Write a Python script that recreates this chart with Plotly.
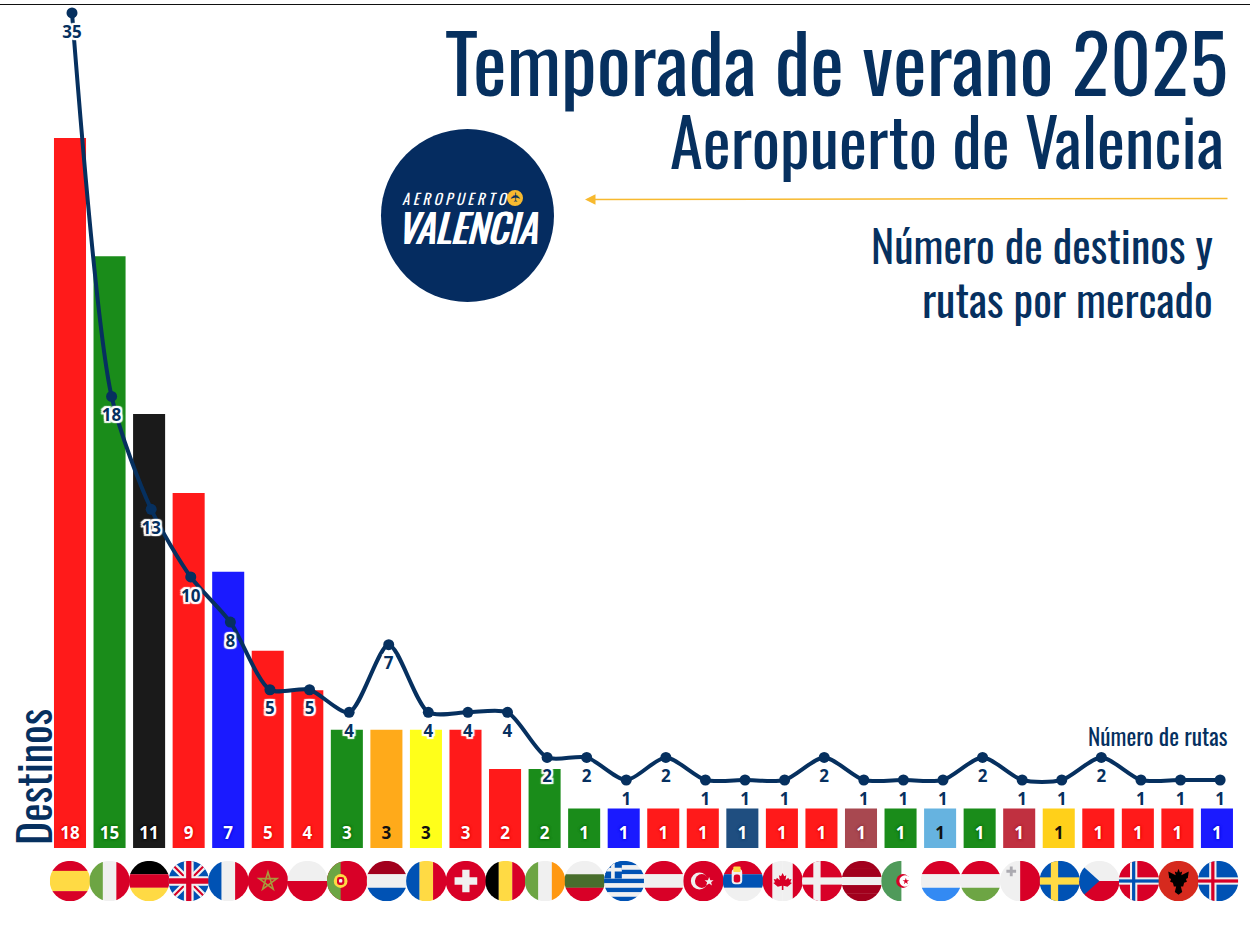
import base64
import plotly.graph_objects as go

# destinos por mercado
paises = ['ES', 'IT', 'DE', 'GB', 'FR', 'MA', 'PL', 'PT', 'NL', 'RO', 'CH', 'BE', 'IE', 'BG', 'GR',
          'AT', 'TR', 'RS', 'CA', 'DK', 'LV', 'DZ', 'LU', 'HU', 'MT', 'SE', 'CZ', 'NO', 'AL', 'IS']
destinos = [18, 15, 11, 9, 7, 5, 4, 3, 3, 3, 3, 2, 2, 1, 1, 1, 1, 1, 1, 1, 1, 1, 1, 1, 1, 1, 1, 1, 1, 1]
rutas = [35, 18, 13, 10, 8, 5, 5, 4, 7, 4, 4, 4, 2, 2, 1, 2, 1, 1, 1, 2, 1, 1, 1, 2, 1, 1, 2, 1, 1, 1]

ROJO, VERDE, NEGRO, AZUL = '#ff1a1a', '#1a8c1a', '#1a1a1a', '#1a1aff'
colores = [ROJO, VERDE, NEGRO, ROJO, AZUL, ROJO, ROJO, VERDE, '#ffaa1a', '#ffff1a', ROJO, ROJO, VERDE, VERDE, AZUL,
           ROJO, ROJO, '#1f4e80', ROJO, ROJO, '#a84850', VERDE, '#66b3e0', VERDE, '#c03040', '#ffd01a', ROJO, ROJO, ROJO, AZUL]
oscuros = {ROJO: '#e00000', VERDE: '#006a00', NEGRO: '#000000', AZUL: '#0000d8', '#1f4e80': '#0f3a68',
           '#a84850': '#8c3038', '#c03040': '#a81828'}

NAVY = '#06305f'
ORO = '#f7b92f'
FUENTE = 'Liberation Sans Narrow, Oswald, Arial Narrow, sans-serif'
W, H = 1250, 935

# colores de las banderas
R, B, A, Y, G, K = '#d80027', '#f0f0f0', '#0052b4', '#ffda44', '#6da544', '#000000'


def h_bands(*cols):
    n = len(cols)
    return ''.join(f'<rect y="{i * 100 / n}" width="100" height="{100 / n + .3}" fill="{c}"/>' for i, c in enumerate(cols))


def v_bands(*cols):
    n = len(cols)
    return ''.join(f'<rect x="{i * 100 / n}" width="{100 / n + .3}" height="100" fill="{c}"/>' for i, c in enumerate(cols))


def nordic(fondo, borde, cruz=None):
    s = f'<rect width="100" height="100" fill="{fondo}"/>'
    s += f'<rect x="28" width="18" height="100" fill="{borde}"/><rect y="41" width="100" height="18" fill="{borde}"/>'
    if cruz:
        s += f'<rect x="33" width="8" height="100" fill="{cruz}"/><rect y="46" width="100" height="8" fill="{cruz}"/>'
    return s


ESTRELLA = '50,28 63,70 28,44 72,44 37,70'
HOJA = '50,30 54,38 59,36 57,48 64,42 66,46 72,45 69,53 73,55 62,64 52,62 52,72 48,72 48,62 38,64 27,55 31,53 28,45 34,46 36,42 43,48 41,36 46,38'
AGUILA = '50,24 53,32 58,30 56,38 72,30 70,44 66,46 68,52 62,54 60,62 55,62 58,74 50,80 42,74 45,62 40,62 38,54 32,52 34,46 30,44 28,30 44,38 42,30 47,32'

banderas = {
    'ES': h_bands(R, Y, Y, R),
    'IT': v_bands(G, B, R),
    'DE': h_bands(K, R, Y),
    'GB': f'<rect width="100" height="100" fill="{A}"/>'
          f'<path d="M0 0L100 100M100 0L0 100" stroke="{B}" stroke-width="16"/>'
          f'<path d="M0 0L100 100M100 0L0 100" stroke="{R}" stroke-width="5"/>'
          f'<path d="M50 0V100M0 50H100" stroke="{B}" stroke-width="24"/>'
          f'<path d="M50 0V100M0 50H100" stroke="{R}" stroke-width="13"/>',
    'FR': v_bands(A, B, R),
    'MA': f'<rect width="100" height="100" fill="{R}"/>'
          f'<polygon points="{ESTRELLA}" fill="none" stroke="#a89a3c" stroke-width="4"/>',
    'PL': h_bands(B, R),
    'PT': f'<rect width="100" height="100" fill="{R}"/><rect width="34" height="100" fill="{G}"/>'
          f'<circle cx="34" cy="50" r="17" fill="{Y}"/><rect x="25" y="40" width="18" height="20" rx="6" fill="{R}"/>'
          f'<rect x="30" y="45" width="8" height="9" rx="3" fill="{B}"/>',
    'NL': h_bands('#a2001d', B, A),
    'RO': v_bands(A, Y, R),
    'CH': f'<rect width="100" height="100" fill="{R}"/>'
          f'<path d="M50 22V78M22 50H78" stroke="{B}" stroke-width="18"/>',
    'BE': v_bands(K, Y, R),
    'IE': v_bands(G, B, '#ff9811'),
    'BG': h_bands(B, '#496e2d', R),
    'GR': h_bands(A, B, A, B, A, B, A, B, A) + f'<rect width="44" height="44" fill="{A}"/>'
          f'<path d="M22 0V44M0 22H44" stroke="{B}" stroke-width="9"/>',
    'AT': h_bands(R, B, R),
    'TR': f'<rect width="100" height="100" fill="{R}"/><circle cx="40" cy="50" r="21" fill="{B}"/>'
          f'<circle cx="46" cy="50" r="17" fill="{R}"/><polygon points="64,40 67,48 75,48 69,53 71,61 64,56 57,61 59,53 53,48 61,48" fill="{B}"/>',
    'RS': h_bands(R, '#0052b4', B) + f'<rect x="22" y="20" width="26" height="38" rx="9" fill="{B}"/>'
          f'<rect x="27" y="34" width="16" height="20" rx="6" fill="{R}"/><rect x="26" y="14" width="18" height="14" rx="3" fill="{Y}"/>',
    'CA': v_bands(R, B, B, R) + f'<polygon points="{HOJA}" fill="{R}"/>',
    'DK': nordic(R, B),
    'LV': h_bands('#a2001d', '#a2001d', B, '#a2001d', '#a2001d'),
    'DZ': f'<rect width="100" height="100" fill="#ffffff"/><rect width="50" height="100" fill="#4f9a5a"/>'
          f'<circle cx="54" cy="50" r="17" fill="{R}"/><circle cx="59" cy="50" r="14" fill="#ffffff"/>'
          f'<polygon points="61,42 63,48 69,48 64,52 66,58 61,54 56,58 58,52 53,48 59,48" fill="{R}"/>',
    'LU': h_bands(R, B, '#338af3'),
    'HU': h_bands(R, B, G),
    'MT': v_bands(B, R) + '<path d="M28 14V38M16 26H40" stroke="#acabb1" stroke-width="7"/>',
    'SE': nordic(A, Y),
    'CZ': h_bands(B, R) + f'<polygon points="0,5 50,50 0,95" fill="{A}"/>',
    'NO': nordic(R, B, A),
    'AL': f'<rect width="100" height="100" fill="#d62a1e"/>'
          f'<polygon points="{AGUILA}" fill="{K}" transform="translate(50 52) scale(1.15) translate(-50 -52)"/>',
    'IS': nordic(A, B, R),
}


def flag_uri(codigo):
    svg = ('<svg xmlns="http://www.w3.org/2000/svg" width="100" height="100" viewBox="0 0 100 100">'
           '<clipPath id="c"><circle cx="50" cy="50" r="50"/></clipPath>'
           f'<g clip-path="url(#c)">{banderas[codigo]}</g></svg>')
    return 'data:image/svg+xml;base64,' + base64.b64encode(svg.encode()).decode()


def px(x):
    return x / W


def py(y):
    return 1 - y / H


idx = list(range(len(paises)))
fig = go.Figure()

fig.add_trace(go.Bar(x=idx, y=destinos, width=0.81, marker=dict(color=colores, line_width=0),
                     xaxis='x', yaxis='y', showlegend=False))

# numero de destinos dentro de la barra
fig.add_trace(go.Scatter(
    x=idx, y=[0.34] * len(idx), mode='text', text=[f'<b>{d}</b>' for d in destinos],
    textfont=dict(family='Noto Sans', size=17,
                  color=['#111111' if c in ('#ffaa1a', '#ffff1a', '#66b3e0', '#ffd01a') else 'white' for c in colores],
                  shadow=[f'0 0 3px {oscuros[c]}, 0 0 3px {oscuros[c]}' if c in oscuros else 'none' for c in colores]),
    xaxis='x', yaxis='y', showlegend=False))

fig.add_trace(go.Scatter(
    x=idx, y=rutas, mode='lines+markers',
    line=dict(color=NAVY, width=4, shape='spline', smoothing=0.75),
    marker=dict(color=NAVY, size=11),
    xaxis='x2', yaxis='y2', showlegend=False, cliponaxis=False))

# etiquetas de rutas, con fondo blanco encima de la linea
halo = ', '.join(f'{a}px {b}px 1px #fff' for a, b in [(2, 0), (-2, 0), (0, 2), (0, -2), (2, 2), (-2, -2), (2, -2), (-2, 2)])
fig.add_trace(go.Scatter(
    x=idx, y=[r - 0.9 for r in rutas], mode='text', text=[f'<b>{r}</b>' for r in rutas],
    textfont=dict(family='Noto Sans', size=17, color=NAVY, shadow=halo),
    xaxis='x2', yaxis='y2', showlegend=False, cliponaxis=False))

textos = [
    ('Temporada de verano 2025', 1230, 60, 80),
    ('Aeropuerto de Valencia', 1226, 139, 66.5),
    ('Número de destinos y', 1215, 244, 44),
    ('rutas por mercado', 1215, 298, 44),
    ('Número de rutas', 1230, 735, 23.3),
]
anotaciones = [dict(text=t, x=px(x), y=py(y), xref='paper', yref='paper', xanchor='right', yanchor='middle', showarrow=False,
                    font=dict(family=FUENTE, size=s, color=NAVY)) for t, x, y, s in textos]
anotaciones.append(dict(text='Destinos', x=px(32), y=py(777), xref='paper', yref='paper', xanchor='center', yanchor='middle',
                        textangle=-90, showarrow=False, font=dict(family=FUENTE, size=44, color=NAVY)))
# flecha
anotaciones.append(dict(text='', x=px(585), y=py(199.5), ax=644, ay=-1, xref='paper', yref='paper',
                        axref='pixel', ayref='pixel', showarrow=True, arrowhead=2, arrowsize=1.4, arrowwidth=1.5,
                        arrowcolor=ORO))
# logo
anotaciones.append(dict(text='<i>A E R O P U E R T O</i>', x=px(455), y=py(198), xref='paper', yref='paper',
                        xanchor='center', yanchor='middle', showarrow=False,
                        font=dict(family=FUENTE, size=15, color='white')))
anotaciones.append(dict(text='<i>VALENCIA</i>', x=px(467.5), y=py(226), xref='paper', yref='paper',
                        xanchor='center', yanchor='middle', showarrow=False,
                        font=dict(family=FUENTE, size=39.5, color='white', shadow='0.7px 0 0 #fff, -0.7px 0 0 #fff')))
anotaciones.append(dict(text='✈', x=px(515), y=py(197.5), xref='paper', yref='paper', xanchor='center', yanchor='middle',
                        showarrow=False, textangle=-90, font=dict(family='DejaVu Sans', size=13, color=NAVY)))

fig.update_layout(
    width=W, height=H, margin=dict(l=0, r=0, t=0, b=0), autosize=False,
    paper_bgcolor='white', plot_bgcolor='white', showlegend=False,
    xaxis=dict(visible=False, range=[-70 / 39.55, (W - 70) / 39.55], fixedrange=True),
    yaxis=dict(visible=False, range=[-87 / 39.45, 848 / 39.45], fixedrange=True),
    xaxis2=dict(visible=False, range=[-72 / 39.59, (W - 72) / 39.59], overlaying='x', anchor='y2'),
    yaxis2=dict(visible=False, range=[1 - 155 / 22.56, 1 + 780 / 22.56], overlaying='y', anchor='x2'),
    annotations=anotaciones,
    shapes=[
        dict(type='line', xref='paper', yref='paper', x0=0, x1=1, y0=py(4.5), y1=py(4.5), line=dict(color='#111111', width=1)),
        dict(type='circle', xref='paper', yref='paper', x0=px(381), x1=px(554), y0=py(302), y1=py(129),
             fillcolor='#052c60', line_width=0),
        dict(type='circle', xref='paper', yref='paper', x0=px(507), x1=px(523), y0=py(206), y1=py(190),
             fillcolor=ORO, line_width=0),
    ],
    images=[dict(source=flag_uri(p), xref='x2', yref='y', x=i - 2 / 39.59, y=-33 / 39.45, sizex=40.5 / 39.55, sizey=40.5 / 39.45,
                 xanchor='center', yanchor='middle', layer='above') for i, p in enumerate(paises)],
)

fig.write_html('out.html', config={'displayModeBar': False}, post_script="document.body.style.margin='0';")
